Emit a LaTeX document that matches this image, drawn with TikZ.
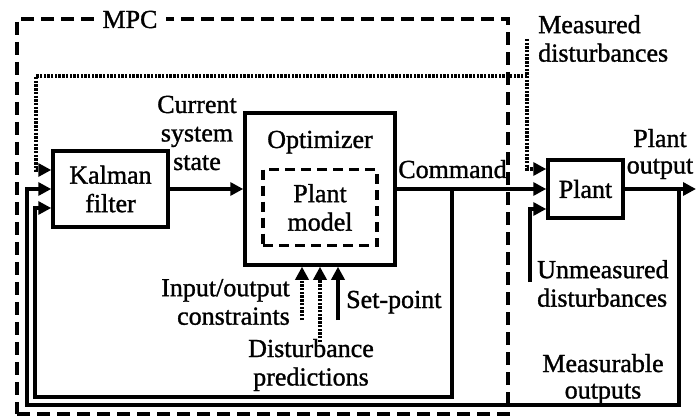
\documentclass[tikz,border=0pt]{standalone}
\usepackage{fontspec}
\setmainfont[FakeBold=1.2]{Liberation Serif}
\usetikzlibrary{arrows.meta}
\begin{document}
\begin{tikzpicture}[x=1pt,y=-1pt,
  every node/.style={font=\fontsize{26}{28.5}\selectfont, inner sep=0pt},
  blk/.style={draw, line width=3.5pt, inner sep=0pt},
  wire/.style={line width=3.5pt},
  arr/.style={wire, -{Triangle[length=13pt,width=13pt]}},
  dotw/.style={line width=3.5pt, dash pattern=on 2.4pt off 1.3pt},
  darr/.style={dotw, -{Triangle[length=13pt,width=13pt]}},
  lbl/.style={align=center},
]
\useasboundingbox (0,0) rectangle (696,417);

% MPC frame
\node[draw, line width=3.5pt, dash pattern=on 13pt off 7pt,
      minimum width=491pt, minimum height=395pt] (mpc) at (262.5,216.5) {};
\node[fill=white, inner xsep=9pt, inner ysep=2pt] (mpcl) at (130,19.5) {MPC};

% blocks
\node[blk, lbl, minimum width=115pt, minimum height=76pt] (kal) at (110.5,189) {Kalman\\filter};
\node[blk, minimum width=150pt, minimum height=152pt] (opt) at (320,189) {};
\node[anchor=base] (optl) at (320,148) {Optimizer};
\node[draw, line width=3.5pt, dash pattern=on 10pt off 6pt, lbl,
      minimum width=114pt, minimum height=76pt] (pm) at (320,207.5) {Plant\\model};
\node[blk, minimum width=75pt, minimum height=58pt] (plant) at (585.5,189) {Plant};

% labels
\node[lbl] (css) at (197,133) {Current\\system\\state};
\node[anchor=base] (cmd) at (452.5,178) {Command};
\node[lbl, font=\fontsize{26}{26.5}\selectfont] (pout) at (660,154) {Plant\\output};
\node[align=left, anchor=west] (mdl) at (538,38.5) {Measured\\disturbances};
\node[align=left, anchor=west] (udl) at (537,283.5) {Unmeasured\\disturbances};
\node[lbl, font=\fontsize{26}{26.5}\selectfont] (mol) at (603,379) {Measurable\\outputs};
\node[align=right, anchor=east] (iol) at (290,302) {Input/output\\constraints};
\node[anchor=base west] (spl) at (346,308) {Set-point};
\node[lbl] (dpl) at (311,365) {Disturbance\\predictions};

% coordinates for free ends and junctions
\coordinate (md) at (527,39);
\coordinate (mdj) at (527,76);
\coordinate (kd) at (36,76);
\coordinate (ud) at (530,282);
\coordinate (cb) at (452,189);
\coordinate (ib) at (35,397);
\coordinate (pb) at (679,189);
\coordinate (ob) at (27,405);
\coordinate (outend) at (696,189);
\coordinate (ioc) at (302,320);
\coordinate (dpc) at (320,342);
\coordinate (spc) at (338,320);

% main signal path
\draw[arr] (kal.east) -- (opt.west);
\draw[arr] (opt.east) -- (plant.west);
\draw[arr] (plant.east) -- (outend);

% feedback loops
\draw[arr] (pb) |- (ob) |- (kal.west);
\draw[arr] (cb) |- (ib) |- ([yshift=-19pt]kal.west);

% measured disturbances (dotted)
\draw[darr] (md) |- ([yshift=20pt]plant.west);
\draw[darr] (mdj) -- (kd) |- ([yshift=19pt]kal.west);

% unmeasured disturbances
\draw[arr] (ud) |- ([yshift=-20pt]plant.west);

% optimizer inputs
\draw[darr] (ioc) -- (ioc |- opt.south);
\draw[darr] (dpc) -- (dpc |- opt.south);
\draw[arr] (spc) -- (spc |- opt.south);
\end{tikzpicture}
\end{document}
